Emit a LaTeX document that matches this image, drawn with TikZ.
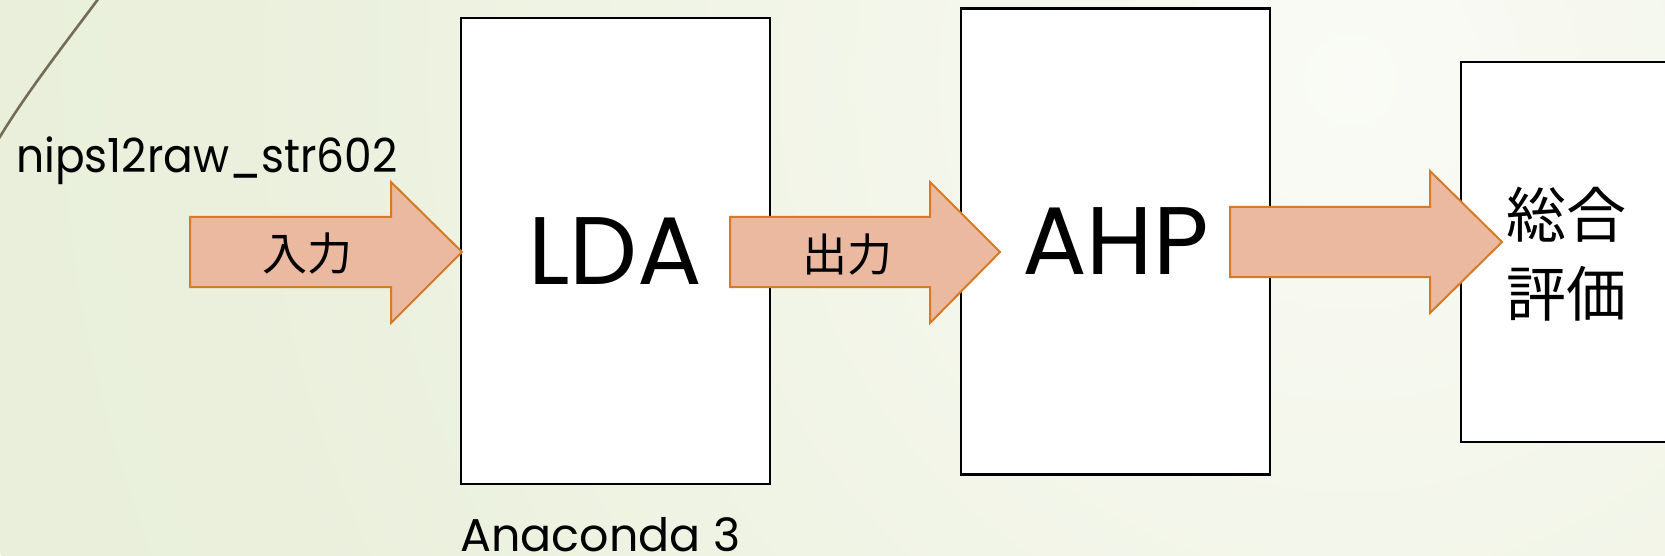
\documentclass[tikz,border=0pt]{standalone}
\usepackage{fontspec}
\setmainfont{Poppins}
\newfontfamily\jpfont{Noto Sans CJK JP}
\definecolor{bgA}{HTML}{FAFBF6}
\definecolor{bgB}{HTML}{F3F6EA}
\definecolor{bgC}{HTML}{EAF0DC}
\definecolor{bgD}{HTML}{E2EAD1}
\definecolor{arrfill}{HTML}{EAB9A0}
\definecolor{arrdraw}{HTML}{D67A28}
\definecolor{deco}{HTML}{746C55}
\pgfdeclareradialshading{bgshade}{\pgfpoint{0bp}{0bp}}{color(0bp)=(bgA); color(8bp)=(bgB); color(20bp)=(bgC); color(50bp)=(bgD)}
\tikzset{
  box/.style={draw=black, fill=white, line width=2.8pt, inner sep=0pt, outer sep=0pt, anchor=north west},
  blockarrow/.style={draw=arrdraw, fill=arrfill, line width=2pt, line join=miter},
  jp/.style={font=\jpfont\fontsize{#1}{#1}\selectfont, inner sep=0pt, anchor=base},
}
\begin{document}
\begin{tikzpicture}[x=1pt, y=-1pt]
\useasboundingbox (0,0) rectangle (1665,556);
\clip (0,0) rectangle (1665,556);
\shade[shading=bgshade] (1350,80) circle (1430pt);
% decorative curve
\draw[deco, line width=2.6pt] (99,-2) .. controls (60,50) and (25,95) .. (-2,140);
% boxes
\node[box, minimum width=309pt, minimum height=466pt, font=\fontsize{96}{100}\selectfont] (lda) at (461,18) {LDA};
\node[box, minimum width=309pt, minimum height=466pt, font=\fontsize{96}{100}\selectfont] (ahp) at (961,8.5) {AHP};
\node[box, minimum width=320pt, minimum height=380pt] (total) at (1461,62) {};
% texts
\node[anchor=base west, inner sep=0pt, font=\fontsize{47}{50}\selectfont] (src) at (16,173) {\scalebox{0.935}[1]{nips12raw\_str602}};
\node[anchor=base west, inner sep=0pt, font=\fontsize{46}{50}\selectfont] (env) at (460,551) {Anaconda 3};
% arrows
\draw[blockarrow] (190,217) -- (391,217) -- (391,182) -- (462,252) -- (391,323) -- (391,287) -- (190,287) -- cycle;
\draw[blockarrow] (730,217) -- (930,217) -- (930,182) -- (1000,252) -- (930,323) -- (930,287) -- (730,287) -- cycle;
\draw[blockarrow] (1230,207) -- (1430,207) -- (1430,171) -- (1502,242) -- (1430,313) -- (1430,277) -- (1230,277) -- cycle;
\node[jp=45] (in) at (307,270) {入力};
\node[jp=45] (out) at (847,271) {出力};
\node[jp=60] (t1) at (1566,237) {総合};
\node[jp=60] (t2) at (1566,316) {評価};
\end{tikzpicture}
\end{document}
